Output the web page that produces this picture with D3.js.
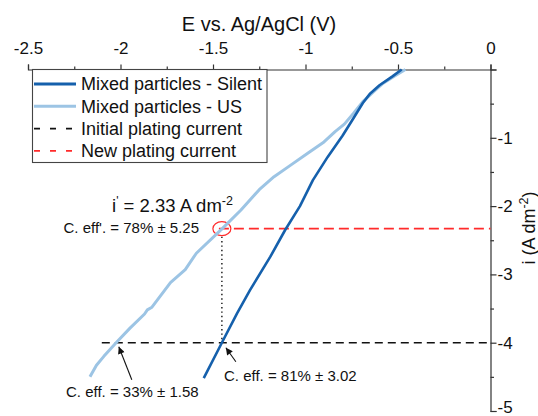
<!DOCTYPE html>
<html>
<head>
<meta charset="utf-8">
<script src="https://cdn.jsdelivr.net/npm/d3@7"></script>
<style>
  body { margin: 0; background: #fff; }
  svg { display: block; font-family: "Liberation Sans", Arial, sans-serif; }
</style>
</head>
<body>
<svg id="chart" width="538" height="416"></svg>
<script>
// ---------------- data ----------------
const silentE = [-0.48, -0.53, -0.60, -0.65, -0.69, -0.74, -0.80, -0.88, -0.96, -1.03, -1.11, -1.19, -1.30, -1.37, -1.45, -1.55];
const silentI = [0.00, -0.10, -0.23, -0.35, -0.49, -0.71, -0.97, -1.28, -1.62, -2.00, -2.35, -2.74, -3.23, -3.57, -3.99, -4.52];

const usE = [-0.46, -0.52, -0.58, -0.63, -0.69, -0.74, -0.79, -0.84, -0.90, -0.99, -1.08, -1.17, -1.25, -1.35, -1.45, -1.59, -1.65, -1.73, -1.83, -1.855, -1.87, -1.95, -2.02, -2.09, -2.13, -2.165];
const usI = [0.00, -0.10, -0.20, -0.32, -0.47, -0.64, -0.80, -0.91, -1.06, -1.23, -1.40, -1.57, -1.76, -2.06, -2.33, -2.69, -2.93, -3.12, -3.48, -3.52, -3.58, -3.79, -3.99, -4.20, -4.33, -4.50];

const xTicks = [-2.5, -2, -1.5, -1, -0.5, 0];
const xMinorTicks = [-2.25, -1.75, -1.25, -0.75, -0.25];
const yTicks = [0, -1, -2, -3, -4, -5];
const yMinorTicks = [-0.5, -1.5, -2.5, -3.5, -4.5];

const initialCurrent = -4;
const newCurrent = -2.33;
const eSilentAtInitial = -1.452;
const eUSAtInitial = -2.02;
const eUSAtNew = -1.452;

const legendLabels = ["Mixed particles - Silent", "Mixed particles - US", "Initial plating current", "New plating current"];
const legendColors = ["#1560ac", "#9cc4e4", "#111111", "#ff2b2b"];
const legendDash = [null, null, "6,10", "6,10"];
const legendWidths = [3, 3, 1.6, 1.6];

// ---------------- setup ----------------
const svg = d3.select("#chart");
const font = "'Liberation Sans', Arial, sans-serif";

const x = d3.scaleLinear().domain([-2.5, 0]).range([28, 490.5]);
const y = d3.scaleLinear().domain([0, -5]).range([69.5, 411]);

// ---------------- axes ----------------
const xAxis = svg.append("g").attr("transform", "translate(0,69.5)")
  .call(d3.axisTop(x).tickValues(xTicks).tickSize(5).tickPadding(10.5)
    .tickFormat(d => d === 0 ? "0" : String(d)));
xAxis.select(".domain").attr("stroke", "#333").attr("stroke-width", 1.2);
xAxis.selectAll(".tick line").attr("stroke", "#333").attr("stroke-width", 1.2);
xAxis.selectAll("text").attr("font-size", 17).attr("font-family", font).attr("fill", "#111");

const xMinor = svg.append("g").attr("transform", "translate(0,69.5)")
  .call(d3.axisTop(x).tickValues(xMinorTicks).tickSize(3).tickFormat(""));
xMinor.select(".domain").remove();
xMinor.selectAll(".tick line").attr("stroke", "#333").attr("stroke-width", 1.2);

const yAxis = svg.append("g").attr("transform", "translate(490.5,0)")
  .call(d3.axisRight(y).tickValues(yTicks).tickSize(6).tickPadding(1)
    .tickFormat(d => d === 0 ? "" : String(d)));
yAxis.select(".domain").attr("stroke", "#333").attr("stroke-width", 1.2);
yAxis.selectAll(".tick line").attr("stroke", "#333").attr("stroke-width", 1.2);
yAxis.selectAll("text").attr("font-size", 17).attr("font-family", font).attr("fill", "#111")
  .attr("dy", d => d === -5 ? "0.1em" : "0.32em");

const yMinor = svg.append("g").attr("transform", "translate(490.5,0)")
  .call(d3.axisRight(y).tickValues(yMinorTicks).tickSize(3.5).tickFormat(""));
yMinor.select(".domain").remove();
yMinor.selectAll(".tick line").attr("stroke", "#333").attr("stroke-width", 1.2);

// axis titles
svg.append("text").attr("x", 259).attr("y", 31).attr("text-anchor", "middle")
  .attr("font-size", 20).attr("fill", "#111").text("E vs. Ag/AgCl (V)");

const yl = svg.append("text").attr("transform", "translate(535,228) rotate(-90)")
  .attr("text-anchor", "middle").attr("font-size", 18).attr("fill", "#111");
yl.append("tspan").text("i (A dm");
yl.append("tspan").attr("font-size", 12.5).attr("dy", -7).text("-2");
yl.append("tspan").attr("dy", 7).text(")");

// ---------------- reference lines ----------------
svg.append("line")
  .attr("x1", x(eUSAtInitial) - 15).attr("x2", x(0))
  .attr("y1", y(initialCurrent)).attr("y2", y(initialCurrent))
  .attr("stroke", "#111").attr("stroke-width", 1.6).attr("stroke-dasharray", "8,5");

svg.append("line")
  .attr("x1", x(eUSAtNew) - 3).attr("x2", x(0))
  .attr("y1", y(newCurrent)).attr("y2", y(newCurrent))
  .attr("stroke", "#ff2b2b").attr("stroke-width", 1.6).attr("stroke-dasharray", "10,5");

svg.append("line")
  .attr("x1", x(eUSAtNew)).attr("x2", x(eUSAtNew))
  .attr("y1", y(newCurrent) + 8).attr("y2", y(initialCurrent))
  .attr("stroke", "#111").attr("stroke-width", 1.4).attr("stroke-dasharray", "1.4,3");

svg.append("ellipse")
  .attr("cx", x(eUSAtNew)).attr("cy", y(newCurrent))
  .attr("rx", 9).attr("ry", 7)
  .attr("fill", "none").attr("stroke", "#ff2b2b").attr("stroke-width", 1.2);

// ---------------- curves ----------------
const line = d3.line().x(d => x(d[0])).y(d => y(d[1]));

svg.append("path")
  .datum(usE.map((e, i) => [e, usI[i]]))
  .attr("d", line).attr("fill", "none")
  .attr("stroke", "#9cc4e4").attr("stroke-width", 3).attr("stroke-linejoin", "round");

svg.append("path")
  .datum(silentE.map((e, i) => [e, silentI[i]]))
  .attr("d", line).attr("fill", "none")
  .attr("stroke", "#1560ac").attr("stroke-width", 2.6).attr("stroke-linejoin", "round");

// ---------------- legend ----------------
const lg = svg.append("g");
lg.append("rect").attr("x", 32.5).attr("y", 69.5).attr("width", 234.5).attr("height", 93)
  .attr("fill", "#fff").attr("stroke", "#444").attr("stroke-width", 1.1);
legendLabels.forEach((lab, i) => {
  const yy = 84 + i * 22.3;
  lg.append("line").attr("x1", 34).attr("x2", 76).attr("y1", yy).attr("y2", yy)
    .attr("stroke", legendColors[i]).attr("stroke-width", legendWidths[i])
    .attr("stroke-dasharray", legendDash[i]);
  lg.append("text").attr("x", 81).attr("y", yy + 6.3).attr("font-size", 18)
    .attr("fill", "#111").text(lab);
});

// ---------------- annotations ----------------
const il = svg.append("text").attr("x", 112).attr("y", 212).attr("font-size", 18.5).attr("fill", "#111");
il.append("tspan").text("i");
il.append("tspan").attr("font-size", 12).attr("dy", -7).text("'");
il.append("tspan").attr("dy", 7).text(" = 2.33 A dm");
il.append("tspan").attr("font-size", 12.5).attr("dy", -7).text("-2");

svg.append("text").attr("x", 63.5).attr("y", 233).attr("font-size", 15).attr("fill", "#111")
  .text("C. eff'. = 78% \u00B1 5.25");
svg.append("text").attr("x", 66).attr("y", 397).attr("font-size", 15).attr("fill", "#111")
  .text("C. eff. = 33% \u00B1 1.58");
svg.append("text").attr("x", 224).attr("y", 381).attr("font-size", 15).attr("fill", "#111")
  .text("C. eff. = 81% \u00B1 3.02");

// arrows
const defs = svg.append("defs");
defs.append("marker").attr("id", "ah").attr("viewBox", "0 0 10 10")
  .attr("refX", 10).attr("refY", 5).attr("markerWidth", 8).attr("markerHeight", 7)
  .attr("markerUnits", "userSpaceOnUse").attr("orient", "auto")
  .append("path").attr("d", "M0,0 L10,5 L0,10 Z").attr("fill", "#111");

const tip1 = [x(eUSAtInitial) + 2, y(initialCurrent) + 4];
svg.append("line").attr("x1", tip1[0] + 13).attr("y1", tip1[1] + 33)
  .attr("x2", tip1[0]).attr("y2", tip1[1])
  .attr("stroke", "#111").attr("stroke-width", 1.1).attr("marker-end", "url(#ah)");

const tip2 = [x(eSilentAtInitial) + 4, y(initialCurrent) + 5];
svg.append("line").attr("x1", tip2[0] + 10).attr("y1", tip2[1] + 14)
  .attr("x2", tip2[0]).attr("y2", tip2[1])
  .attr("stroke", "#111").attr("stroke-width", 1.1).attr("marker-end", "url(#ah)");
</script>
</body>
</html>
